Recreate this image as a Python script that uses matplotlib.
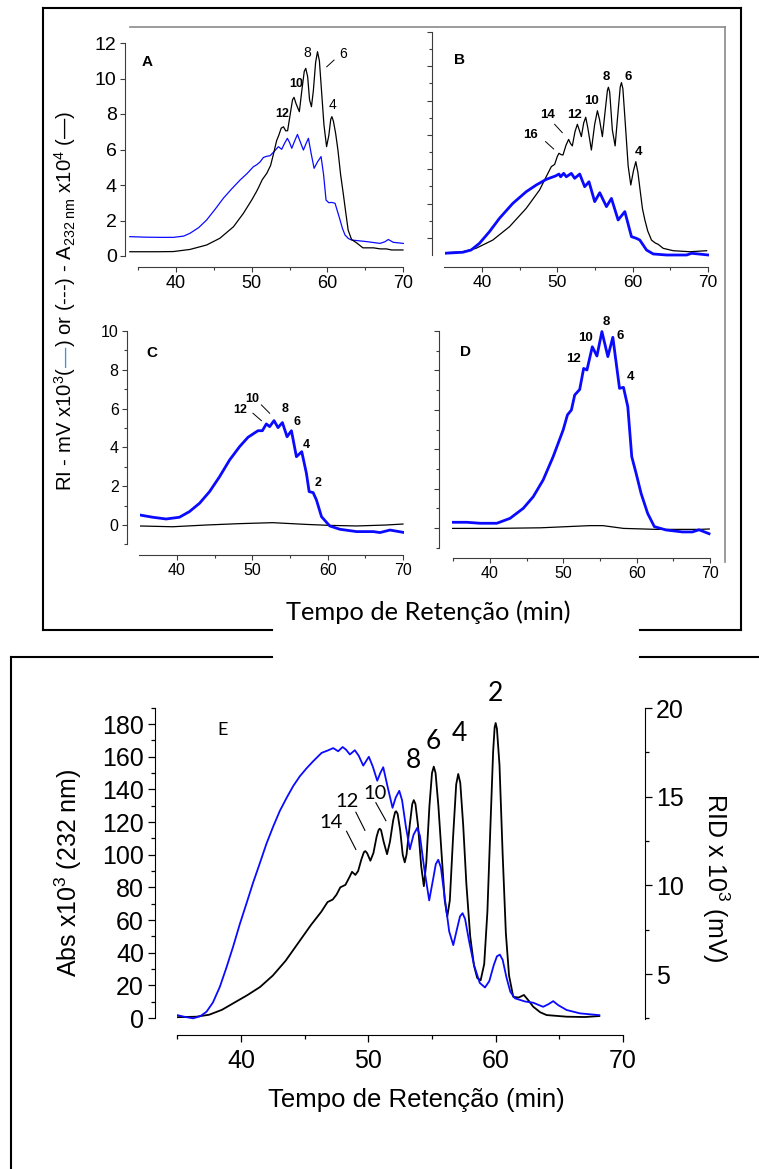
import numpy as np
import matplotlib
matplotlib.use('Agg')
import matplotlib.pyplot as plt
from matplotlib.lines import Line2D
from matplotlib.ticker import FixedLocator

plt.rcParams['font.family'] = ['Liberation Sans', 'DejaVu Sans']
plt.rcParams['mathtext.fontset'] = 'custom'
plt.rcParams['mathtext.rm'] = 'Liberation Sans'
plt.rcParams['mathtext.it'] = 'Liberation Sans:italic'
plt.rcParams['mathtext.bf'] = 'Liberation Sans:bold'

''' data read from the picture (retention time in min) '''
# panel A
tA_black = [33.9, 35.0, 37.5, 39.65, 41.85, 44.05, 45.8, 47.6, 48.9, 50.0, 50.6, 50.9, 51.4, 52.0, 52.5, 52.9,
            53.3, 53.6, 53.9, 54.2, 54.5, 54.75, 55.1, 55.4, 55.6, 55.85, 56.3, 56.65, 56.95, 57.15, 57.4, 57.65,
            57.9, 58.15, 58.45, 58.7, 58.95, 59.2, 59.55, 59.9, 60.2, 60.45, 60.6, 60.8, 61.1, 61.4, 61.75, 62.1,
            62.45, 62.75, 63.2, 63.9, 64.7, 66.1, 67.0, 67.8, 68.5, 70.0]
yA_black = [0.24, 0.24, 0.24, 0.25, 0.37, 0.62, 1.0, 1.65, 2.4, 3.15, 3.6, 3.85, 4.3, 4.66, 5.1, 5.78,
            6.5, 6.82, 7.2, 7.28, 7.05, 7.06, 8.0, 8.8, 8.94, 8.6, 8.13, 9.4, 10.4, 10.57, 10.1, 8.8,
            8.41, 9.3, 10.9, 11.51, 11.0, 9.5, 7.4, 6.16, 6.8, 7.7, 7.85, 7.6, 6.9, 5.97, 4.6, 3.53,
            2.4, 1.46, 0.93, 0.73, 0.46, 0.46, 0.4, 0.4, 0.34, 0.34]
tA_blue = [33.9, 36.0, 38.0, 39.65, 41.0, 41.85, 43.0, 44.05, 45.2, 46.25, 47.4, 48.47, 49.4, 50.23, 50.7,
           51.11, 51.55, 52.0, 52.43, 53.0, 53.53, 53.97, 54.35, 54.72, 55.0, 55.3, 55.7, 56.05, 56.45, 56.84,
           57.15, 57.5, 57.85, 58.25, 58.7, 59.17, 59.5, 59.83, 60.2, 60.58, 61.02, 61.35, 61.68, 62.0, 62.34,
           62.8, 63.22, 65.2, 66.96, 67.6, 68.06, 68.72, 70.04]
yA_blue = [1.09, 1.06, 1.05, 1.05, 1.12, 1.28, 1.6, 2.03, 2.65, 3.25, 3.8, 4.28, 4.65, 5.03, 5.15,
           5.3, 5.55, 5.62, 5.65, 5.9, 6.16, 6.01, 6.35, 6.63, 6.4, 6.07, 6.5, 6.85, 6.4, 5.97,
           6.3, 6.63, 5.8, 4.94, 5.3, 5.6, 4.6, 3.15, 3.0, 3.02, 2.97, 2.5, 2.03, 1.55, 1.18,
           0.98, 0.9, 0.81, 0.71, 0.8, 0.93, 0.77, 0.71]

# panel B
tB_black = [35.0, 37.44, 39.21, 41.43, 43.65, 45.87, 47.64, 48.53, 49.2, 49.64, 50.0, 50.22, 50.5, 50.75,
            51.15, 51.5, 51.75, 51.99, 52.35, 52.66, 52.9, 53.19, 53.5, 53.77, 54.05, 54.52, 54.95, 55.32,
            55.6, 55.98, 56.4, 56.65, 56.78, 56.95, 57.3, 57.67, 58.05, 58.35, 58.51, 58.7, 59.0, 59.4,
            59.75, 60.1, 60.42, 60.7, 61.04, 61.3, 61.62, 62.0, 62.5, 63.0, 63.39, 64.05, 65.39, 67.6, 69.82]
yB_black = [0.13, 0.19, 0.39, 0.87, 1.65, 2.72, 3.79, 4.57, 5.15, 5.28, 5.75, 5.93, 5.85, 5.83,
            6.4, 6.74, 6.5, 6.36, 7.2, 7.62, 7.3, 6.9, 7.7, 8.03, 7.4, 6.12, 7.6, 8.41,
            7.9, 6.9, 8.6, 9.6, 9.78, 9.5, 7.3, 6.36, 8.3, 9.8, 10.05, 9.7, 7.8, 5.2,
            4.08, 4.9, 5.44, 4.8, 3.6, 2.7, 2.04, 1.4, 0.87, 0.7, 0.62, 0.39, 0.25, 0.19, 0.25]
tB_blue = [35.0, 37.44, 38.55, 39.66, 40.99, 42.32, 44.09, 45.87, 47.2, 48.53, 49.77, 50.22, 50.44, 50.84,
           51.19, 51.86, 52.3, 52.97, 53.63, 54.2, 54.96, 55.63, 56.52, 57.18, 58.07, 58.96, 59.84, 60.5,
           60.95, 61.84, 62.73, 64.5, 67.16, 67.83, 70.04]
yB_blue = [0.1, 0.16, 0.29, 0.68, 1.36, 2.14, 3.01, 3.69, 4.08, 4.41, 4.61, 4.72, 4.56, 4.76,
           4.56, 4.76, 4.47, 4.72, 3.98, 4.27, 3.11, 3.63, 2.82, 3.3, 2.04, 2.53, 1.07, 0.97,
           0.87, 0.29, 0.06, 0.0, 0.0, 0.1, 0.0]

# panel C
tC_black = [35.0, 39.42, 43.9, 48.3, 52.7, 57.2, 60.3, 63.85, 67.8, 70.0]
yC_black = [-0.05, -0.09, 0.0, 0.07, 0.12, 0.03, -0.02, -0.05, 0.0, 0.05]
tC_blue = [35.0, 36.77, 38.55, 40.32, 41.65, 42.99, 44.32, 45.65, 46.98, 48.31, 49.42, 50.08, 50.75, 51.33,
           51.86, 52.3, 52.88, 53.41, 53.99, 54.61, 55.19, 55.85, 56.56, 57.18, 57.54, 58.07, 58.51, 59.18,
           60.28, 61.62, 63.83, 66.05, 66.94, 68.27, 70.04]
yC_blue = [0.52, 0.4, 0.31, 0.4, 0.69, 1.12, 1.72, 2.49, 3.35, 4.04, 4.52, 4.69, 4.86, 4.86,
           5.21, 5.07, 5.38, 5.02, 5.28, 4.55, 4.86, 3.52, 3.78, 2.66, 1.72, 1.67, 1.29, 0.43,
           -0.05, -0.22, -0.34, -0.34, -0.39, -0.26, -0.38]

# panel D
tD_black = [34.9, 40.6, 46.9, 53.6, 55.4, 58.2, 62.7, 68.6, 69.9]
yD_black = [-0.02, -0.02, 0.01, 0.12, 0.12, -0.02, -0.07, -0.07, -0.05]
tD_blue = [34.9, 36.86, 38.66, 40.93, 42.73, 44.54, 45.9, 47.25, 48.61, 49.97, 50.56, 51.1, 51.55, 52.23,
           52.77, 53.22, 53.95, 54.58, 55.26, 56.07, 56.75, 57.66, 58.2, 58.79, 59.33, 59.92, 60.6, 61.5,
           62.41, 63.99, 66.25, 67.6, 68.51, 69.87]
yD_blue = [0.29, 0.29, 0.24, 0.24, 0.49, 1.0, 1.59, 2.44, 3.62, 4.97, 5.74, 5.99, 6.75, 7.03,
           8.1, 8.02, 9.2, 8.73, 9.97, 8.7, 9.68, 7.09, 7.14, 6.16, 3.62, 2.78, 1.76, 0.74,
           0.07, -0.1, -0.2, -0.2, -0.09, -0.29]

# panel E: black = Abs x10^3 (232 nm), blue = RID x10^3 (mV)
tE_abs = [35.0, 36.5, 37.5, 38.5, 39.5, 40.5, 41.5, 42.5, 43.5, 44.5, 45.5, 46.3, 46.8, 47.2, 47.5, 47.8,
          48.2, 48.5, 48.72, 48.98, 49.2, 49.45, 49.65, 49.76, 49.9, 50.16, 50.4, 50.65, 50.8, 50.89, 51.0,
          51.2, 51.47, 51.7, 51.95, 52.1, 52.18, 52.3, 52.5, 52.7, 52.86, 53.0, 53.25, 53.45, 53.57, 53.7,
          53.9, 54.15, 54.36, 54.55, 54.8, 55.0, 55.14, 55.28, 55.5, 55.8, 56.0, 56.2, 56.4, 56.65, 56.9,
          57.06, 57.22, 57.45, 57.7, 58.0, 58.3, 58.55, 58.82, 59.1, 59.35, 59.6, 59.8, 59.92, 60.0, 60.1,
          60.3, 60.55, 60.8, 61.05, 61.38, 61.8, 62.22, 62.6, 62.95, 63.5, 64.0, 65.57, 67.0, 68.14]
yE_abs = [0.5, 0.8, 2.0, 5.0, 9.5, 14.0, 19.0, 26.0, 35.0, 46.0, 57.0, 65.0, 71.0, 72.5, 75.5, 80.0,
          81.5, 86.0, 89.5, 87.6, 90.0, 97.0, 101.5, 102.2, 101.0, 96.3, 101.0, 111.0, 115.0, 115.9, 115.0,
          108.0, 100.3, 108.0, 121.0, 126.0, 126.6, 125.0, 115.0, 100.0, 95.3, 100.0, 118.0, 131.0, 133.4, 131.0,
          118.0, 93.0, 80.7, 95.0, 130.0, 150.0, 153.9, 150.0, 130.0, 95.0, 72.0, 62.2, 72.0, 110.0, 143.0,
          149.4, 144.0, 118.0, 82.0, 50.0, 32.0, 24.5, 23.1, 33.0, 65.0, 120.0, 163.0, 178.0, 180.6, 177.0,
          155.0, 100.0, 52.0, 26.0, 13.0, 12.5, 14.1, 10.5, 6.9, 3.5, 1.8, 0.8, 0.6, 1.2]
tE_rid = [35.0, 35.6, 36.24, 36.8, 37.29, 37.8, 38.34, 38.85, 39.38, 39.9, 40.44, 40.95, 41.48, 42.0,
          42.53, 43.05, 43.58, 44.1, 44.62, 45.15, 45.67, 46.33, 46.8, 47.24, 47.63, 47.98, 48.25, 48.55,
          48.94, 49.25, 49.6, 50.04, 50.35, 50.7, 50.95, 51.17, 51.5, 51.9, 52.15, 52.43, 52.65, 52.95,
          53.26, 53.55, 53.84, 54.05, 54.4, 54.78, 55.1, 55.3, 55.49, 55.7, 56.0, 56.35, 56.67, 56.95,
          57.2, 57.4, 57.6, 57.9, 58.3, 58.75, 59.16, 59.5, 59.85, 60.1, 60.33, 60.55, 60.85, 61.15,
          61.51, 62.3, 62.95, 63.73, 64.15, 64.52, 64.9, 65.57, 66.62, 68.14]
yE_rid = [2.68, 2.58, 2.50, 2.62, 2.87, 3.4, 4.28, 5.35, 6.54, 7.8, 9.0, 10.15, 11.25, 12.35,
          13.32, 14.2, 14.93, 15.6, 16.15, 16.6, 17.0, 17.47, 17.6, 17.74, 17.56, 17.8, 17.65, 17.38,
          17.62, 17.3, 16.75, 17.25, 16.7, 15.9, 16.35, 16.66, 15.6, 14.37, 14.95, 15.33, 14.8, 13.3,
          12.03, 12.85, 13.24, 12.8, 10.9, 9.15, 10.4, 11.2, 11.44, 11.0, 9.3, 7.4, 6.63, 7.5,
          8.25, 8.43, 8.1, 6.9, 5.5, 4.5, 4.24, 4.6, 5.5, 6.0, 6.09, 5.8, 4.8, 4.0,
          3.63, 3.45, 3.38, 3.15, 3.3, 3.47, 3.25, 2.97, 2.78, 2.68]

x_major = [40, 50, 60, 70]
x_minor = [35, 45, 55, 65]

W, H = 759, 1169
fig = plt.figure(figsize=(W / 100, H / 100), dpi=100)
BLUE = '#0a0aff'
GREY = '#3c3c3c'


def place(left, right, top, bottom, xa, xb, ya, yb):
    # axes box in pixels, limits from two reference ticks per axis
    ax = fig.add_axes([left / W, 1 - bottom / H, (right - left) / W, (bottom - top) / H])
    sx = (xb[1] - xa[1]) / (xb[0] - xa[0])
    sy = (yb[1] - ya[1]) / (yb[0] - ya[0])
    ax.set_xlim(xa[1] + (left - xa[0]) * sx, xa[1] + (right - xa[0]) * sx)
    ax.set_ylim(ya[1] + (bottom - ya[0]) * sy, ya[1] + (top - ya[0]) * sy)
    ax.patch.set_alpha(0)
    return ax


def small_style(ax, out_px, ybounds, yticks, yminor, ylabels, xsize, ysize):
    for s in ['top', 'right']:
        ax.spines[s].set_visible(False)
    for s in ['left', 'bottom']:
        ax.spines[s].set_color(GREY)
        ax.spines[s].set_linewidth(0.8)
    ax.spines['left'].set_position(('outward', out_px * 0.72))
    ax.spines['left'].set_bounds(*ybounds)
    ax.spines['bottom'].set_bounds(35, 70)
    ax.set_xticks(x_major)
    ax.xaxis.set_minor_locator(FixedLocator(x_minor))
    ax.set_yticks(yticks)
    ax.yaxis.set_minor_locator(FixedLocator(yminor))
    ax.tick_params(which='major', length=3.5, width=0.8, color=GREY, pad=2.5)
    ax.tick_params(which='minor', length=2, width=0.8, color=GREY)
    ax.tick_params(axis='x', labelsize=xsize)
    ax.tick_params(axis='y', labelsize=ysize, labelleft=ylabels)


''' panel A '''
axA = place(129, 406, 38, 267, (176, 40), (403, 70), (256, 0), (43, 12))
axA.plot(tA_blue, yA_blue, color=BLUE, lw=0.9)
axA.plot(tA_black, yA_black, color='k', lw=0.9)
small_style(axA, 4, (0, 12), range(0, 13, 2), [], True, 13, 14)
axA.text(36.2, 10.95, 'A', fontsize=11, fontweight='bold', ha='center', va='center')
axA.text(53.98, 7.98, '12', fontsize=9, fontweight='bold', ha='center', va='center')
axA.text(55.87, 9.69, '10', fontsize=9, fontweight='bold', ha='center', va='center')
axA.text(57.41, 11.45, '8', fontsize=10, ha='center', va='center')
axA.text(62.04, 11.36, '6', fontsize=10, ha='center', va='center')
axA.text(60.66, 8.5, '4', fontsize=10, ha='center', va='center')
axA.plot([59.92, 60.89], [10.66, 11.04], color='k', lw=0.7)

''' panel B '''
axB = place(445, 709, 30, 267, (482, 40), (708, 70), (255, 0), (32, 13))
axB.plot(tB_black, yB_black, color='k', lw=0.9)
axB.plot(tB_blue, yB_blue, color=BLUE, lw=2.0)
small_style(axB, 13, (0, 13), range(1, 14, 2), range(2, 13, 2), False, 12.5, 12)
axB.text(37.0, 11.37, 'B', fontsize=11, fontweight='bold', ha='center', va='center')
for s, t, v in [('8', 56.52, 10.36), ('6', 59.4, 10.36), ('10', 54.52, 8.98), ('12', 52.3, 8.16),
                ('14', 48.67, 8.16), ('16', 46.45, 7.0), ('4', 60.82, 6.02)]:
    axB.text(t, v, s, fontsize=9.5, fontweight='bold', ha='center', va='center')
axB.plot([49.64, 50.66], [7.62, 7.13], color='k', lw=0.7)
axB.plot([48.44, 49.51], [6.61, 6.18], color='k', lw=0.7)

''' panel C '''
axC = place(140, 404, 328, 555, (177, 40), (403, 70), (525, 0), (331, 10))
axC.plot(tC_black, yC_black, color='k', lw=0.9)
axC.plot(tC_blue, yC_blue, color=BLUE, lw=2.0)
small_style(axC, 13, (-1, 10), range(0, 11, 2), [-1, 1, 3, 5, 7, 9], True, 11.5, 11.5)
axC.text(36.73, 8.87, 'C', fontsize=11, fontweight='bold', ha='center', va='center')
for s, t, v in [('12', 48.44, 5.93), ('10', 50.04, 6.49), ('8', 54.3, 5.98), ('6', 55.89, 5.31),
                ('4', 57.22, 4.12), ('2', 58.69, 2.16)]:
    axC.text(t, v, s, fontsize=9, fontweight='bold', ha='center', va='center')
axC.plot([50.08, 51.2], [5.76, 5.38], color='k', lw=0.7)
axC.plot([51.2, 52.3], [6.19, 5.76], color='k', lw=0.7)

''' panel D '''
axD = place(452, 711, 328, 558, (490, 40), (710, 70), (528, 0), (331, 10))
axD.plot(tD_black, yD_black, color='k', lw=0.9)
axD.plot(tD_blue, yD_blue, color=BLUE, lw=2.0)
small_style(axD, 13, (-1, 10), range(0, 11, 2), [-1, 1, 3, 5, 7, 9], False, 11.5, 11.5)
axD.text(36.63, 8.95, 'D', fontsize=11, fontweight='bold', ha='center', va='center')
for s, t, v in [('8', 55.86, 10.47), ('10', 53.0, 9.64), ('6', 57.8, 9.75), ('12', 51.42, 8.58),
                ('4', 59.15, 7.68)]:
    axD.text(t, v, s, fontsize=9.5, fontweight='bold', ha='center', va='center')

''' panel E '''
axE = place(177, 624, 705, 1035, (241, 40), (623, 70), (1018, 0), (724, 180))
axE2 = axE.twinx()
axE2.set_ylim(5 + (1035 - 974) * (-15 / 266), 5 + (705 - 974) * (-15 / 266))
axE2.patch.set_alpha(0)
axE.plot(tE_abs, yE_abs, color='k', lw=1.3)
axE2.plot(tE_rid, yE_rid, color=BLUE, lw=1.3)
for s in ['top', 'right']:
    axE.spines[s].set_visible(False)
for s in ['top', 'left', 'bottom']:
    axE2.spines[s].set_visible(False)
axE.spines['left'].set_position(('outward', 22 * 0.72))
axE.spines['left'].set_bounds(0, 190)
axE.spines['bottom'].set_bounds(35, 70)
axE2.spines['right'].set_position(('outward', 21 * 0.72))
axE2.spines['right'].set_bounds(2.46, 20)
axE.set_xticks(x_major)
axE.xaxis.set_minor_locator(FixedLocator(x_minor))
axE.set_yticks(range(0, 181, 20))
axE.yaxis.set_minor_locator(FixedLocator(range(10, 191, 20)))
axE2.set_yticks([5, 10, 15, 20])
axE2.yaxis.set_minor_locator(FixedLocator([2.5, 7.5, 12.5, 17.5]))
for a in [axE, axE2]:
    a.tick_params(which='major', length=5, width=0.9, labelsize=18, pad=3)
    a.tick_params(which='minor', length=3, width=0.9)
axE.tick_params(axis='x', pad=5)

fig.text(68 / W, 1 - 873 / H, 'Abs x10$^3$ (232 nm)', fontsize=18, rotation=90, ha='center', va='center')
fig.text(716 / W, 1 - 878 / H, 'RID x 10$^3$ (mV)', fontsize=18, rotation=270, ha='center', va='center')
fig.text(416 / W, 1 - 1100 / H, 'Tempo de Retenção (min)', fontsize=18.5, ha='center', va='center')

axE.text(38.55, 176.4, 'E', fontsize=13, family='Lato', ha='center', va='center')
for s, t, v, fs in [('2', 60.02, 198.8, 19), ('4', 57.14, 174.4, 19), ('6', 55.09, 169.5, 19),
                    ('8', 53.52, 157.8, 19), ('10', 50.51, 137.3, 14.5), ('12', 48.29, 132.5, 14.5),
                    ('14', 47.11, 119.4, 14.5)]:
    axE.text(t, v, s, fontsize=fs, family='Lato', ha='center', va='center')
axE.plot([48.29, 49.02], [114.3, 103.2], color='k', lw=0.8)
axE.plot([49.02, 49.73], [126.0, 114.9], color='k', lw=0.8)
axE.plot([50.59, 51.38], [131.8, 120.8], color='k', lw=0.8)

''' shared labels of the upper block '''
r = fig.canvas.get_renderer()
top_x = fig.text(428 / W, 1 - 612 / H, 'Tempo de Retenção (min)', fontsize=15, family='Lato',
                 ha='center', va='center')
top_x.set_fontsize(15 * 285 / top_x.get_window_extent(r).width)

pieces = [('RI - mV x10$^3$(', 'k'), ('—', '#3d94dc'),
          (') or (---) - A$_{\\rm 232\\ nm}$ x10$^4$ (—)', 'k')]
parts = [fig.text(0, 0, s, color=c, fontsize=15, rotation=90, rotation_mode='anchor',
                  ha='left', va='baseline') for s, c in pieces]
lengths = [p.get_window_extent(r).height for p in parts]
scale = 382 / sum(lengths)
for p in parts:
    p.set_fontsize(15 * scale)
lengths = [p.get_window_extent(r).height for p in parts]
y = (H - 301) - sum(lengths) / 2
for p, L in zip(parts, lengths):
    p.set_position((72 / W, y / H))
    y += L

''' frames '''


def seg(x0, y0, x1, y1, color='k', lw=1.5):
    fig.add_artist(Line2D([x0 / W, x1 / W], [1 - y0 / H, 1 - y1 / H], color=color, lw=lw,
                          transform=fig.transFigure, solid_capstyle='projecting'))


seg(43, 8, 741, 8)
seg(43, 8, 43, 630)
seg(741, 8, 741, 630)
seg(43, 630, 272, 630)
seg(640, 630, 741, 630)
seg(130, 27, 725, 27, color='#8a8a8a', lw=1.2)
seg(725, 27, 725, 562, color='#8a8a8a', lw=1.2)
seg(11, 657, 272, 657)
seg(640, 657, 759, 657)
seg(11, 657, 11, 1169)

fig.savefig('out.png', dpi=100)
